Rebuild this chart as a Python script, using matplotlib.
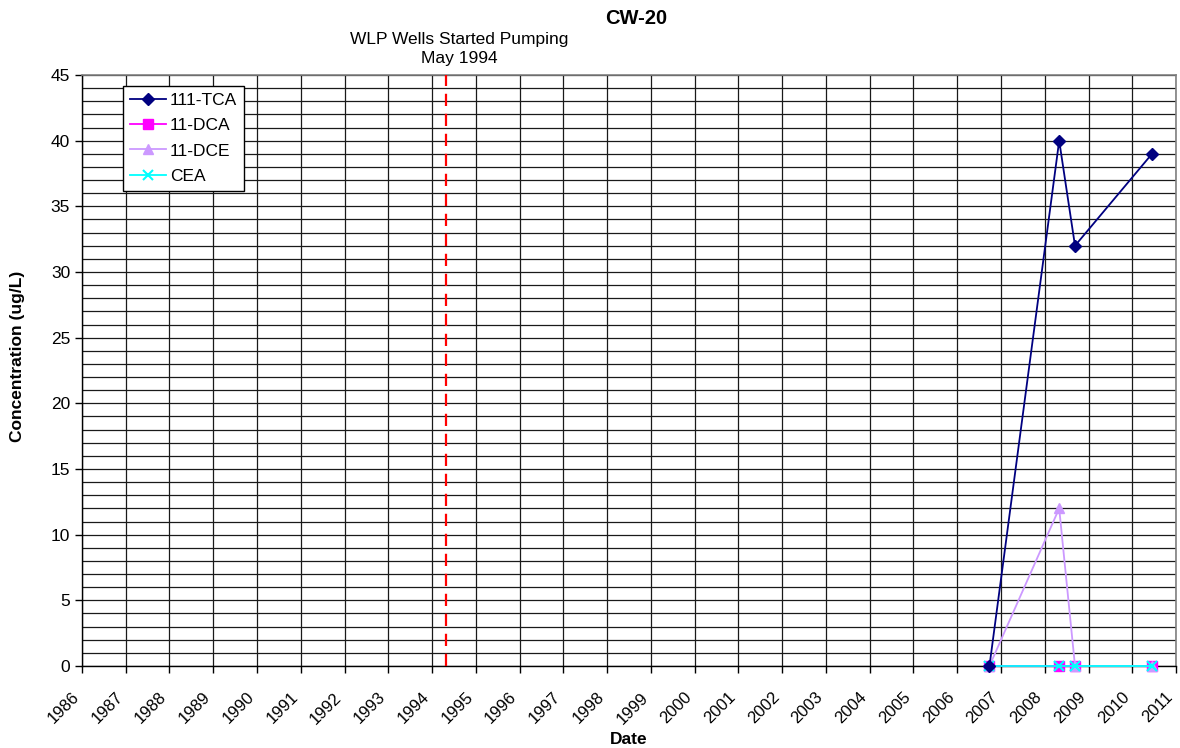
import matplotlib
matplotlib.use("Agg")
import matplotlib.pyplot as plt
import matplotlib.dates as mdates
from matplotlib.ticker import MultipleLocator
import pandas as pd

plt.rcParams['font.family'] = ['Liberation Sans', 'DejaVu Sans']

# ---- data ----
dates = ["2006-09-27", "2008-05-01", "2008-09-10", "2010-06-15"]
tca_111 = [0, 40, 32, 39]
dca_11 = [0, 0, 0, 0]
dce_11 = [0, 12, 0, 0]
cea = [0, 0, 0, 0]
series_names = ["111-TCA", "11-DCA", "11-DCE", "CEA"]
pump_date = "1994-05-01"
pump_text = "WLP Wells Started Pumping\nMay 1994"
title = "CW-20"
xlabel = "Date"
ylabel = "Concentration (ug/L)"
year_start, year_end = 1986, 2011

x = pd.to_datetime(dates)

fig = plt.figure(figsize=(11.8, 7.48), dpi=100)
ax = fig.add_axes([82/1180, 1-666/748, (1176-82)/1180, (666-75)/748])

ax.set_xlim(pd.Timestamp(f"{year_start}-01-01"), pd.Timestamp(f"{year_end}-01-01"))
ax.set_ylim(0, 45)

ax.xaxis.set_major_locator(mdates.YearLocator(1))
ax.xaxis.set_major_formatter(mdates.DateFormatter("%Y"))
ax.yaxis.set_major_locator(MultipleLocator(5))
ax.yaxis.set_minor_locator(MultipleLocator(1))

ax.grid(True, which='major', axis='x', color='#1a1a1a', lw=0.9, zorder=0)
ax.grid(True, which='both', axis='y', color='#1a1a1a', lw=0.9, zorder=0)
ax.set_axisbelow(True)

for s in ['top', 'right']:
    ax.spines[s].set_color('#808080')
    ax.spines[s].set_linewidth(1.2)
for s in ['left', 'bottom']:
    ax.spines[s].set_color('black')
    ax.spines[s].set_linewidth(1.0)

ax.tick_params(axis='both', which='major', direction='out', length=5, width=1, labelsize=12.5, color='black')
ax.tick_params(axis='y', which='minor', length=0)
ax.tick_params(axis='x', pad=12)
for lab in ax.get_xticklabels():
    lab.set_rotation(45)
    lab.set_ha('right')
    lab.set_va('top')
    lab.set_fontsize(12)

lw = 1.3
ax.plot(x, tca_111, color='#000080', marker='D', ms=6.5, lw=lw, label=series_names[0], zorder=5, clip_on=False)
ax.plot(x, dca_11, color='#FF00FF', marker='s', ms=6.5, lw=lw, label=series_names[1], zorder=3, clip_on=False)
ax.plot(x, dce_11, color='#CC99FF', marker='^', ms=7.5, lw=lw, label=series_names[2], zorder=4, clip_on=False)
ax.plot(x, cea, color='#00FFFF', marker='x', ms=7, mew=1.5, lw=lw, label=series_names[3], zorder=4, clip_on=False)

ax.axvline(pd.Timestamp(pump_date), color='#FF0000', lw=1.6, linestyle=(0, (5.5, 3.5)), zorder=6)

fig.text(459/1180, 1-49/748, pump_text, ha='center', va='center', fontsize=12.5, linespacing=1.35)
fig.text(636/1180, 1-19/748, title, ha='center', va='center', fontsize=14.5, fontweight='bold')
fig.text(629/1180, 1-740/748, xlabel, ha='center', va='center', fontsize=12.5, fontweight='bold')
fig.text(18/1180, 1-356/748, ylabel, ha='center', va='center', rotation=90, fontsize=12.5, fontweight='bold')

leg = ax.legend(loc='upper left', bbox_to_anchor=(123/1180, 1-86/748), bbox_transform=fig.transFigure,
                fontsize=12.5, frameon=True, fancybox=False, shadow=False, borderaxespad=0,
                handlelength=2.1, handletextpad=0.2, labelspacing=0.58, borderpad=0.4)
leg.get_frame().set_edgecolor('black')
leg.get_frame().set_linewidth(1.0)
leg.get_frame().set_alpha(1)

fig.savefig("out.png", dpi=100)
